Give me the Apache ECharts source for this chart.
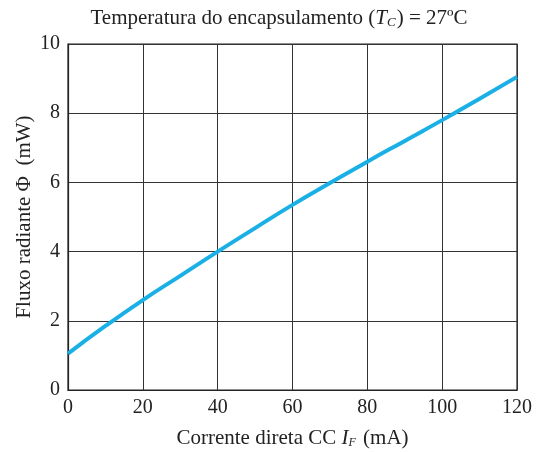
<!DOCTYPE html>
<html>
<head>
<meta charset="utf-8">
<script src="https://cdn.jsdelivr.net/npm/echarts@6/dist/echarts.min.js"></script>
<style>
  html, body { margin: 0; padding: 0; background: #fff; }
  #chart { width: 544px; height: 452px; }
</style>
</head>
<body>
<div id="chart"></div>
<script>
// forward current (mA) vs radiant flux (mW)
const currentMA = [0, 10, 20, 30, 40, 50, 60, 70, 80, 90, 100, 110, 120];
const fluxMW = [1.05, 1.85, 2.6, 3.3, 4.0, 4.68, 5.35, 5.98, 6.6, 7.2, 7.8, 8.42, 9.05];
const xTicks = [0, 20, 40, 60, 80, 100, 120];
const yTicks = [0, 2, 4, 6, 8, 10];

const chart = echarts.init(document.getElementById('chart'));
const serif = '"Liberation Serif", "DejaVu Serif", serif';
const ink = '#222';

const opts = {
  animation: false,
  backgroundColor: '#fff',
  title: {
    text: 'Temperatura do encapsulamento ({i|T}{sub|C}) = 27ºC',
    left: 274,
    textAlign: 'center',
    top: 3,
    textStyle: {
      fontFamily: serif,
      fontSize: 21,
      fontWeight: 'normal',
      color: ink,
      rich: {
        i: { fontFamily: serif, fontSize: 21, fontStyle: 'italic', color: ink },
        sub: { fontFamily: serif, fontSize: 13, fontStyle: 'italic', color: ink, verticalAlign: 'bottom', padding: [8, 1, 0, 0] },
      },
    },
  },
  grid: {
    left: 68,
    right: 27,
    top: 44,
    bottom: 62,
    containLabel: false,
    outerBoundsMode: 'none',
    show: true,
    borderColor: ink,
    borderWidth: 1.2,
  },
  xAxis: {
    type: 'value',
    min: 0,
    max: 120,
    interval: 20,
    name: 'Corrente direta CC {i|I}{sub|F} (mA)',
    nameLocation: 'middle',
    nameGap: 38,
    nameTextStyle: {
      fontFamily: serif,
      fontSize: 21,
      color: ink,
      rich: {
        i: { fontFamily: serif, fontSize: 21, fontStyle: 'italic', color: ink },
        sub: { fontFamily: serif, fontSize: 12, fontStyle: 'italic', color: ink, verticalAlign: 'bottom', padding: [8, 2, 0, 0] },
      },
    },
    axisLine: { show: true, lineStyle: { color: ink, width: 1.2 } },
    axisTick: { show: false },
    axisLabel: {
      fontFamily: serif,
      fontSize: 20,
      color: ink,
      margin: 8,
      formatter: (v) => (xTicks.includes(v) ? String(v) : ''),
    },
    splitLine: { show: true, lineStyle: { color: '#333', width: 1 } },
  },
  yAxis: {
    type: 'value',
    min: 0,
    max: 10,
    interval: 2,
    name: 'Fluxo radiante Φ  (mW)',
    nameLocation: 'middle',
    nameGap: 33,
    nameMoveOverlap: false,
    nameTextStyle: { fontFamily: serif, fontSize: 21, color: ink },
    axisLine: { show: true, lineStyle: { color: ink, width: 1.2 } },
    axisTick: { show: false },
    axisLabel: {
      fontFamily: serif,
      fontSize: 20,
      color: ink,
      margin: 8,
      formatter: (v) => (yTicks.includes(v) ? String(v) : ''),
    },
    splitLine: { show: true, lineStyle: { color: '#333', width: 1 } },
  },
  series: [
    {
      type: 'line',
      data: currentMA.map((x, i) => [x, fluxMW[i]]),
      smooth: true,
      showSymbol: false,
      lineStyle: { color: '#1ab0e6', width: 4 },
    },
  ],
};

chart.setOption(opts);
</script>
</body>
</html>
